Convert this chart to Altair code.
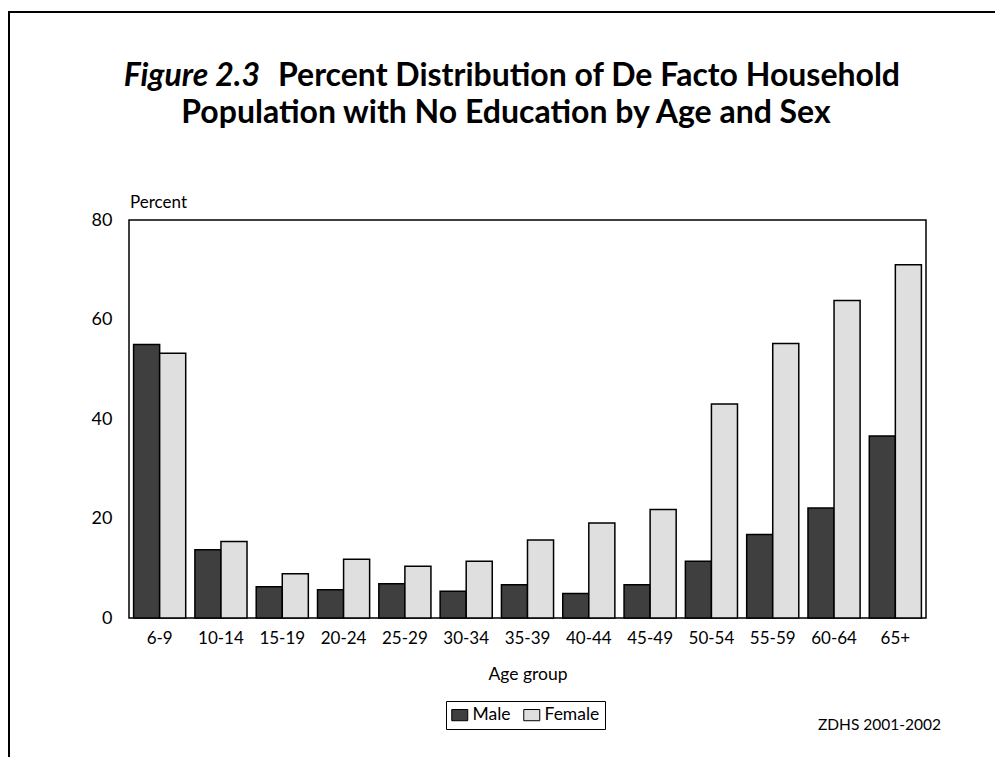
import altair as alt
import pandas as pd

ages = ["6-9", "10-14", "15-19", "20-24", "25-29", "30-34", "35-39",
        "40-44", "45-49", "50-54", "55-59", "60-64", "65+"]
male = [55.0, 13.7, 6.3, 5.7, 6.9, 5.4, 6.7, 4.9, 6.7, 11.4, 16.8, 22.1, 36.6]
female = [53.2, 15.4, 8.9, 11.8, 10.4, 11.4, 15.7, 19.1, 21.8, 43.0, 55.2, 63.8, 71.0]
sexes = ["Male", "Female"]
y_ticks = [0, 20, 40, 60, 80]

FONT = "Lato"

rows = []
for a, m, f in zip(ages, male, female):
    rows.append({"age": a, "sex": "Male", "pct": m})
    rows.append({"age": a, "sex": "Female", "pct": f})
df = pd.DataFrame(rows)

W, H = 797, 398

bars = alt.Chart(df).mark_bar(stroke="black", strokeWidth=1.5).encode(
    x=alt.X("age:N", sort=ages,
            scale=alt.Scale(paddingInner=0.15, paddingOuter=0.075),
            axis=alt.Axis(title="Age group", labelAngle=0, labelFontSize=17,
                          labelPadding=12, titleFontSize=17.5, titleFontWeight="normal",
                          titlePadding=19, domain=False, ticks=False,
                          labelFont=FONT, titleFont=FONT, labelColor="black",
                          titleColor="black")),
    xOffset=alt.XOffset("sex:N", sort=sexes),
    y=alt.Y("pct:Q", scale=alt.Scale(domain=[0, 80], nice=False),
            axis=alt.Axis(title=None, values=y_ticks, labelFontSize=18,
                          labelPadding=17, domain=False, ticks=False, grid=False,
                          labelFont=FONT, labelColor="black")),
    color=alt.Color("sex:N", sort=sexes,
                    scale=alt.Scale(domain=sexes, range=["#3f3f3f", "#dfdfdf"]),
                    legend=alt.Legend(title=None, orient="none", direction="horizontal",
                                      legendX=317, legendY=481,
                                      strokeColor="black", padding=5,
                                      symbolType="M-1,-0.7H1V0.7H-1Z", symbolSize=256,
                                      symbolStrokeColor="black", symbolStrokeWidth=1,
                                      symbolOpacity=1,
                                      labelFontSize=17.5, labelFont=FONT,
                                      labelColor="black", labelOffset=4,
                                      columnPadding=10)),
)

one = pd.DataFrame({"k": [0]})

def txt(text, x, y, size, weight="normal", style="normal", align="left"):
    return alt.Chart(one).mark_text(
        text=text, font=FONT, fontSize=size, fontWeight=weight, fontStyle=style,
        align=align, baseline="alphabetic", color="black"
    ).encode(x=alt.value(x), y=alt.value(y))

title1a = txt("Figure 2.3", 131, -134, 32, "bold", "italic", "right")
title1b = txt("Percent Distribution of De Facto Household", 149, -134, 32, "bold")
title2 = txt("Population with No Education by Age and Sex", 377, -97, 32, "bold", align="center")
ylabel = txt("Percent", 1, -12, 17)
note = txt("ZDHS 2001-2002", 689, 510, 15.5)

frame_left = alt.Chart(one).mark_rule(color="black", strokeWidth=2).encode(
    x=alt.value(-120), y=alt.value(-209), y2=alt.value(560))
frame_top = alt.Chart(one).mark_rule(color="black", strokeWidth=2).encode(
    x=alt.value(-121), x2=alt.value(900), y=alt.value(-208))

chart = alt.layer(bars, title1a, title1b, title2, ylabel, note, frame_left, frame_top).properties(
    width=W, height=H,
    padding={"left": 121, "top": 212, "right": 69, "bottom": 139},
    autosize=alt.AutoSizeParams(type="none"),
    background="white",
).configure_view(stroke="black", strokeWidth=1.5)

chart.save("out.html", embed_options={"renderer": "svg", "actions": False})
